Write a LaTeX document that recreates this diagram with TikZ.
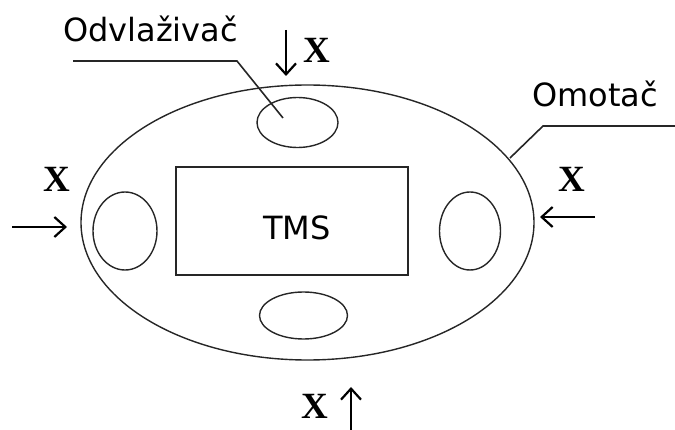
\documentclass[tikz,border=0pt]{standalone}
\usepackage{fontspec}
\setmainfont{Liberation Serif}
\newfontfamily\labelfont{DejaVu Sans}
\usetikzlibrary{arrows.meta}
\tikzset{
  outline/.style={draw=black!85, line width=1.4pt},
  boxline/.style={draw=black!85, line width=1.8pt},
  leader/.style={draw=black!85, line width=1.6pt},
  lbl/.style={inner sep=0pt, anchor=base west, font=\labelfont\fontsize{32}{36}\selectfont},
  xlbl/.style={inner sep=0pt, anchor=base west, font=\bfseries\fontsize{37}{42}\selectfont},
  xarrow/.style={line width=2.4pt, -{Straight Barb[length=11pt,width=20pt,line width=2.2pt]}}
}
\begin{document}
\begin{tikzpicture}[x=1pt,y=-1pt]
\useasboundingbox (0,0) rectangle (675,430);
% outer ellipse (Omotac)
\draw[outline] (307.5,222.5) ellipse [x radius=226.5, y radius=137.5];
% four dehumidifiers
\draw[outline] (297.5,122.5) ellipse [x radius=40.5, y radius=25];
\draw[outline] (303.5,315.5) ellipse [x radius=44, y radius=23.5];
\draw[outline] (125,231) ellipse [x radius=32, y radius=39];
\draw[outline] (470,231) ellipse [x radius=30.5, y radius=39];
% TMS box
\node[boxline, minimum width=232pt, minimum height=108pt, inner sep=0pt] (tms) at (292,221) {};
\node[lbl] (tmstext) at (263,240) {TMS};
% labels
\node[lbl] (odv) at (63,42) {Odvlaživač};
\node[lbl] (omo) at (532,107) {Omotač};
% leader lines
\coordinate (o1) at (73,61);
\coordinate (o2) at (237,61);
\coordinate (o3) at (283,118);
\draw[leader] (o1) -- (o2) -- (o3);
\coordinate (m1) at (675,126);
\coordinate (m2) at (543,126);
\coordinate (m3) at (510,158);
\draw[leader] (m1) -- (m2) -- (m3);
% X labels
\node[xlbl] (xt) at (303,63) {X};
\node[xlbl] (xr) at (558,192) {X};
\node[xlbl] (xl) at (43,192) {X};
\node[xlbl] (xb) at (301,418) {X};
% arrows
\coordinate (at1) at (286,30);
\coordinate (at2) at (286,76);
\draw[xarrow] (at1) -- (at2);
\coordinate (ar1) at (595,217);
\coordinate (ar2) at (540,217);
\draw[xarrow] (ar1) -- (ar2);
\coordinate (al1) at (12,227);
\coordinate (al2) at (67,227);
\draw[xarrow] (al1) -- (al2);
\coordinate (ab1) at (351,432);
\coordinate (ab2) at (351,387);
\draw[xarrow] (ab1) -- (ab2);
\end{tikzpicture}
\end{document}
